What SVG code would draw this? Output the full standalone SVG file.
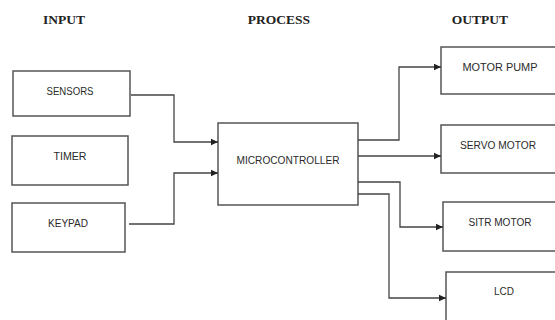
<svg xmlns="http://www.w3.org/2000/svg" width="555" height="320" viewBox="0 0 555 320">
<defs>
<marker id="arr" markerWidth="8" markerHeight="8" refX="7" refY="4" orient="auto" markerUnits="userSpaceOnUse">
<path d="M0,0.8 L7,4 L0,7.2 Z" fill="#222"/>
</marker>
<style>
.hd{font-family:"Liberation Serif","Times New Roman",serif;font-weight:bold;font-size:13.5px;fill:#222;text-anchor:middle}
.bx{fill:#fff;stroke:#555;stroke-width:1.5}
.lb{font-family:"Liberation Sans",Arial,sans-serif;font-size:10px;fill:#2a2a2a;text-anchor:middle}
.cn{fill:none;stroke:#444;stroke-width:1.3}
</style>
</defs>
<rect width="555" height="320" fill="#fff"/>
<text class="hd" x="64" y="24">INPUT</text>
<text class="hd" x="279" y="24">PROCESS</text>
<text class="hd" x="480" y="24">OUTPUT</text>

<g id="sensors"><rect class="bx" x="13" y="71" width="117" height="45"/><text class="lb" x="70" y="94.5" textLength="47" lengthAdjust="spacingAndGlyphs">SENSORS</text></g>
<g id="timer"><rect class="bx" x="12" y="136" width="116" height="49"/><text class="lb" x="70" y="159.5" textLength="33" lengthAdjust="spacingAndGlyphs">TIMER</text></g>
<g id="keypad"><rect class="bx" x="12" y="203" width="113" height="49"/><text class="lb" x="68" y="226.5" textLength="40" lengthAdjust="spacingAndGlyphs">KEYPAD</text></g>
<g id="microcontroller"><rect class="bx" x="218" y="123" width="140" height="82"/><text class="lb" x="288" y="163.5" textLength="103" lengthAdjust="spacingAndGlyphs">MICROCONTROLLER</text></g>
<g id="motorpump"><rect class="bx" x="441" y="47" width="120" height="47"/><text class="lb" x="500" y="70.5" textLength="75" lengthAdjust="spacingAndGlyphs">MOTOR PUMP</text></g>
<g id="servomotor"><rect class="bx" x="441" y="125" width="120" height="48"/><text class="lb" x="498" y="148.5" textLength="76" lengthAdjust="spacingAndGlyphs">SERVO MOTOR</text></g>
<g id="sitrmotor"><rect class="bx" x="443" y="202" width="120" height="49"/><text class="lb" x="500" y="225.5" textLength="63" lengthAdjust="spacingAndGlyphs">SITR MOTOR</text></g>
<g id="lcd"><rect class="bx" x="446" y="272" width="120" height="60"/><text class="lb" x="504" y="294.5" textLength="20" lengthAdjust="spacingAndGlyphs">LCD</text></g>

<g id="connectors">
<path class="cn" d="M131,95 H174 V142 H218" marker-end="url(#arr)"/>
<path class="cn" d="M129,224 H174 V173 H218" marker-end="url(#arr)"/>
<path class="cn" d="M358,140 H399 V67 H441" marker-end="url(#arr)"/>
<path class="cn" d="M358,156 H441" marker-end="url(#arr)"/>
<path class="cn" d="M358,182 H400 V227 H443" marker-end="url(#arr)"/>
<path class="cn" d="M358,194 H389 V298 H446" marker-end="url(#arr)"/>
</g>
</svg>
